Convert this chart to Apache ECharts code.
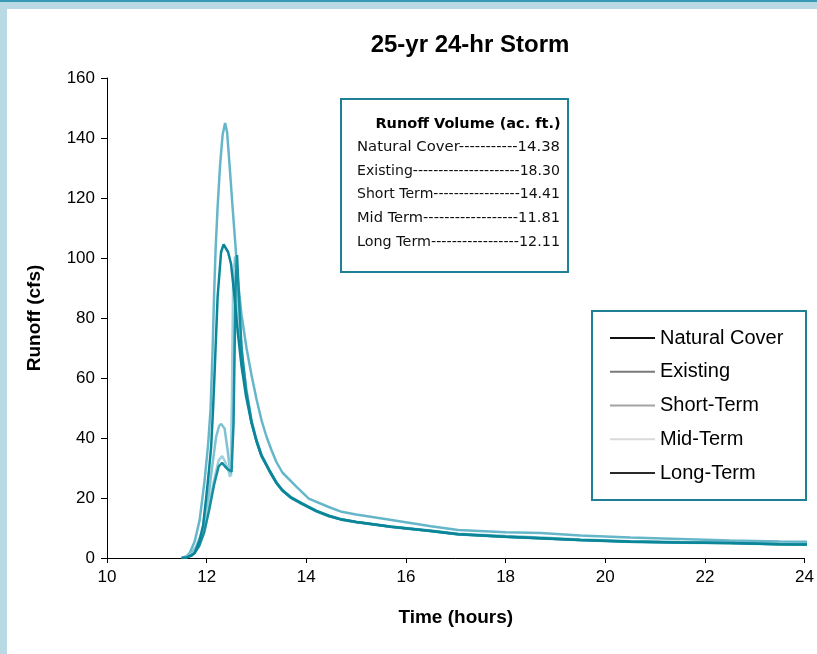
<!DOCTYPE html>
<html><head><meta charset="utf-8">
<script src="https://cdn.jsdelivr.net/npm/echarts@6/dist/echarts.min.js"></script>
<style>html,body{margin:0;padding:0;background:#fff}#c{width:817px;height:654px}</style>
</head><body><div id="c"></div><script>
// ---- data (time in hours, runoff in cfs) ----
const seriesNames = ['Natural Cover', 'Existing', 'Short-Term', 'Mid-Term', 'Long-Term'];
const naturalCover = [[11.5,0],[11.6,0.2],[11.7,0.8],[11.76,1.7],[11.86,6],[11.93,11],[11.99,20],[12.04,28],[12.09,37],[12.13,50],[12.16,62],[12.22,87],[12.29,102],[12.34,104.5],[12.38,105],[12.43,102],[12.49,98],[12.56,87],[12.62,76],[12.7,64],[12.79,54],[12.9,45],[13.0,39],[13.1,34],[13.26,29],[13.4,25],[13.52,22.5],[13.7,20],[13.92,18],[14.2,15.6],[14.45,14],[14.71,12.8],[15.0,12],[15.7,10.4],[16.5,9],[17.05,7.9],[18.0,7.1],[18.7,6.6],[19.5,6],[20.5,5.4],[21.5,5.2],[22.5,5],[23.5,4.6],[24.2,4.5]];
const existing = [[11.5,0],[11.6,0.6],[11.66,1.7],[11.76,5.5],[11.86,12.7],[11.96,26],[12.03,38],[12.08,50],[12.12,70],[12.15,88],[12.18,103],[12.22,117],[12.27,131],[12.32,141],[12.37,145],[12.41,142],[12.46,131],[12.52,117],[12.57,106],[12.63,92],[12.7,81],[12.8,70],[12.9,61],[13.0,53],[13.1,46],[13.2,40.5],[13.3,36],[13.4,32],[13.52,28.5],[13.8,23.8],[14.05,19.8],[14.45,17],[14.71,15.4],[15.0,14.5],[15.71,12.7],[16.5,10.6],[17.05,9.3],[18.0,8.6],[18.71,8.3],[19.5,7.5],[20.5,6.8],[21.5,6.3],[22.5,5.8],[23.5,5.5],[24.2,5.4]];
const shortTerm = [[11.5,0],[11.6,0.5],[11.7,1.6],[11.79,3.8],[11.92,9.3],[12.02,18.2],[12.12,31.6],[12.19,40.4],[12.25,44],[12.29,44.7],[12.36,43.2],[12.42,36],[12.46,30.4],[12.49,27.5],[12.52,60],[12.55,95],[12.57,100.5],[12.6,92],[12.65,80],[12.72,66],[12.8,56],[12.9,46],[13.0,39.5],[13.1,34.5],[13.26,29.3],[13.4,25.2],[13.52,22.7],[13.7,20.2],[13.92,18.2],[14.2,15.8],[14.45,14.2],[14.71,12.9],[15.0,12.1],[15.7,10.5],[16.5,9.2],[17.05,8.1],[18.0,7.3],[18.7,6.8],[19.5,6.2],[20.5,5.6],[21.5,5.3],[22.5,5.1],[23.5,4.8],[24.2,4.7]];
const midTerm = [[11.5,0],[11.6,0.3],[11.75,2],[11.85,5],[11.95,10],[12.05,18],[12.15,26],[12.24,32.5],[12.31,34],[12.36,32.5],[12.42,30],[12.47,27],[12.5,40],[12.53,90],[12.55,97],[12.58,88],[12.63,78],[12.7,66],[12.8,55],[12.9,45],[13.0,39],[13.1,34],[13.26,29],[13.4,25],[13.52,22.4],[13.7,19.9],[13.92,17.9],[14.2,15.5],[14.45,13.9],[14.71,12.7],[15.0,11.9],[15.7,10.3],[16.5,8.9],[17.05,7.8],[18.0,7],[18.7,6.5],[19.5,5.9],[20.5,5.3],[21.5,5.1],[22.5,4.9],[23.5,4.5],[24.2,4.4]];
const longTerm = [[11.5,0],[11.6,0.2],[11.75,1.5],[11.85,4],[11.95,8.5],[12.05,16],[12.15,24.5],[12.24,30.5],[12.31,31.7],[12.37,30.5],[12.43,29.5],[12.5,28.8],[12.54,45],[12.58,90],[12.61,101],[12.64,90],[12.7,70],[12.79,56],[12.9,45.5],[13.0,39],[13.1,34.2],[13.26,29.2],[13.4,25.1],[13.52,22.6],[13.7,20.1],[13.92,18.1],[14.2,15.7],[14.45,14.1],[14.71,12.8],[15.0,12],[15.7,10.4],[16.5,9],[17.05,7.9],[18.0,7.1],[18.7,6.6],[19.5,6],[20.5,5.5],[21.5,5.2],[22.5,5],[23.5,4.6],[24.2,4.5]];
const seriesData = [naturalCover, existing, shortTerm, midTerm, longTerm];
const xTicks = [10, 12, 14, 16, 18, 20, 22, 24];
const yTicks = [0, 20, 40, 60, 80, 100, 120, 140, 160];
const volumeLabels = ['Natural Cover-----------', 'Existing---------------------', 'Short Term-----------------', 'Mid Term------------------', 'Long Term-----------------'];
const volumeValues = ['14.38', '18.30', '14.41', '11.81', '12.11'];

// ---- styles ----
const lineColors = ['#0b8699', '#66b6ca', '#7fc2d2', '#9dd0dc', '#168ea2'];
const legendColors = ['#111111', '#7a7a7a', '#a3a3a3', '#d9d9d9', '#2a2a2a'];
const FONT = '"Liberation Sans", Arial, sans-serif';
const BOXFONT = '"DejaVu Sans", sans-serif';
const BOXLINEFONT = '14.5px ' + BOXFONT;

const chart = echarts.init(document.getElementById('c'), null, {renderer: 'canvas'});

// measure text so each line in the volume box spans the box like the reference
const mctx = document.createElement('canvas').getContext('2d');
mctx.font = BOXLINEFONT;
const boxTexts = [];
boxTexts.push({type: 'text', z: 60, silent: true, style: {text: 'Runoff Volume (ac. ft.)', x: 468, y: 124, align: 'center', verticalAlign: 'middle', font: 'bold 14.5px ' + BOXFONT, fill: '#000'}});
volumeLabels.forEach((lab, i) => {
  const str = lab + volumeValues[i];
  const w = mctx.measureText(str).width || 200;
  boxTexts.push({type: 'text', z: 60, silent: true, x: 357, y: 147 + i * 23.8, scaleX: 203 / w,
    style: {text: str, x: 0, y: 0, align: 'left', verticalAlign: 'middle', font: BOXLINEFONT, fill: '#111'}});
});

chart.setOption({
  animation: false,
  backgroundColor: '#ffffff',
  title: {
    text: '25-yr 24-hr Storm', left: 465, top: 28, textAlign: 'center',
    textStyle: {fontFamily: FONT, fontWeight: 'bold', fontSize: 24, color: '#000'}
  },
  grid: {left: 107, top: 78, right: 9, bottom: 96, containLabel: false},
  legend: {
    orient: 'vertical', left: 610, top: 328, padding: 0, itemGap: 13.75,
    itemWidth: 45, itemHeight: 2, icon: 'rect',
    textStyle: {fontFamily: FONT, fontSize: 20, color: '#000', padding: [0, 0, 0, 0]},
    data: seriesNames.map((n, i) => ({name: n, icon: 'rect', itemStyle: {color: legendColors[i]}}))
  },
  xAxis: {
    type: 'value', min: xTicks[0], max: xTicks[xTicks.length - 1], interval: 2,
    name: 'Time (hours)', nameLocation: 'middle', nameGap: 50,
    nameTextStyle: {fontFamily: FONT, fontWeight: 'bold', fontSize: 19, color: '#000'},
    axisLine: {lineStyle: {color: '#000', width: 1}},
    axisTick: {show: true, inside: false, length: 5, lineStyle: {color: '#000'}},
    axisLabel: {fontFamily: FONT, fontSize: 17, color: '#000', margin: 11},
    splitLine: {show: false}
  },
  yAxis: {
    type: 'value', min: yTicks[0], max: yTicks[yTicks.length - 1], interval: 20,
    name: 'Runoff (cfs)', nameLocation: 'middle', nameGap: 63, nameRotate: 90,
    nameTextStyle: {fontFamily: FONT, fontWeight: 'bold', fontSize: 19, color: '#000'},
    axisLine: {show: true, lineStyle: {color: '#000', width: 1}},
    axisTick: {show: true, inside: false, length: 6, lineStyle: {color: '#000'}},
    axisLabel: {fontFamily: FONT, fontSize: 17, color: '#000', margin: 12},
    splitLine: {show: false}
  },
  series: seriesNames.map((n, i) => ({
    name: n, type: 'line', data: seriesData[i], showSymbol: false, symbol: 'none',
    lineStyle: {color: lineColors[i], width: 2.5}, itemStyle: {color: lineColors[i]},
    z: i === 0 ? 5 : 3, clip: true
  })),
  graphic: [
    {type: 'rect', silent: true, z: 100, shape: {x: 0, y: 0, width: 817, height: 9}, style: {fill: '#b9d9e4'}},
    {type: 'rect', silent: true, z: 101, shape: {x: 0, y: 0, width: 817, height: 2}, style: {fill: '#3a9ab5'}},
    {type: 'rect', silent: true, z: 100, shape: {x: 0, y: 0, width: 7, height: 654}, style: {fill: '#b9d9e4'}},
    {type: 'rect', silent: true, z: 50, shape: {x: 341, y: 99, width: 227, height: 173}, style: {fill: '#fff', stroke: '#1e7f95', lineWidth: 2}}
  ].concat(boxTexts).concat([
    {type: 'rect', silent: true, z: 0, shape: {x: 592, y: 311, width: 214, height: 189}, style: {fill: '#fff', stroke: '#1e7f95', lineWidth: 2}}
  ])
});
</script></body></html>
